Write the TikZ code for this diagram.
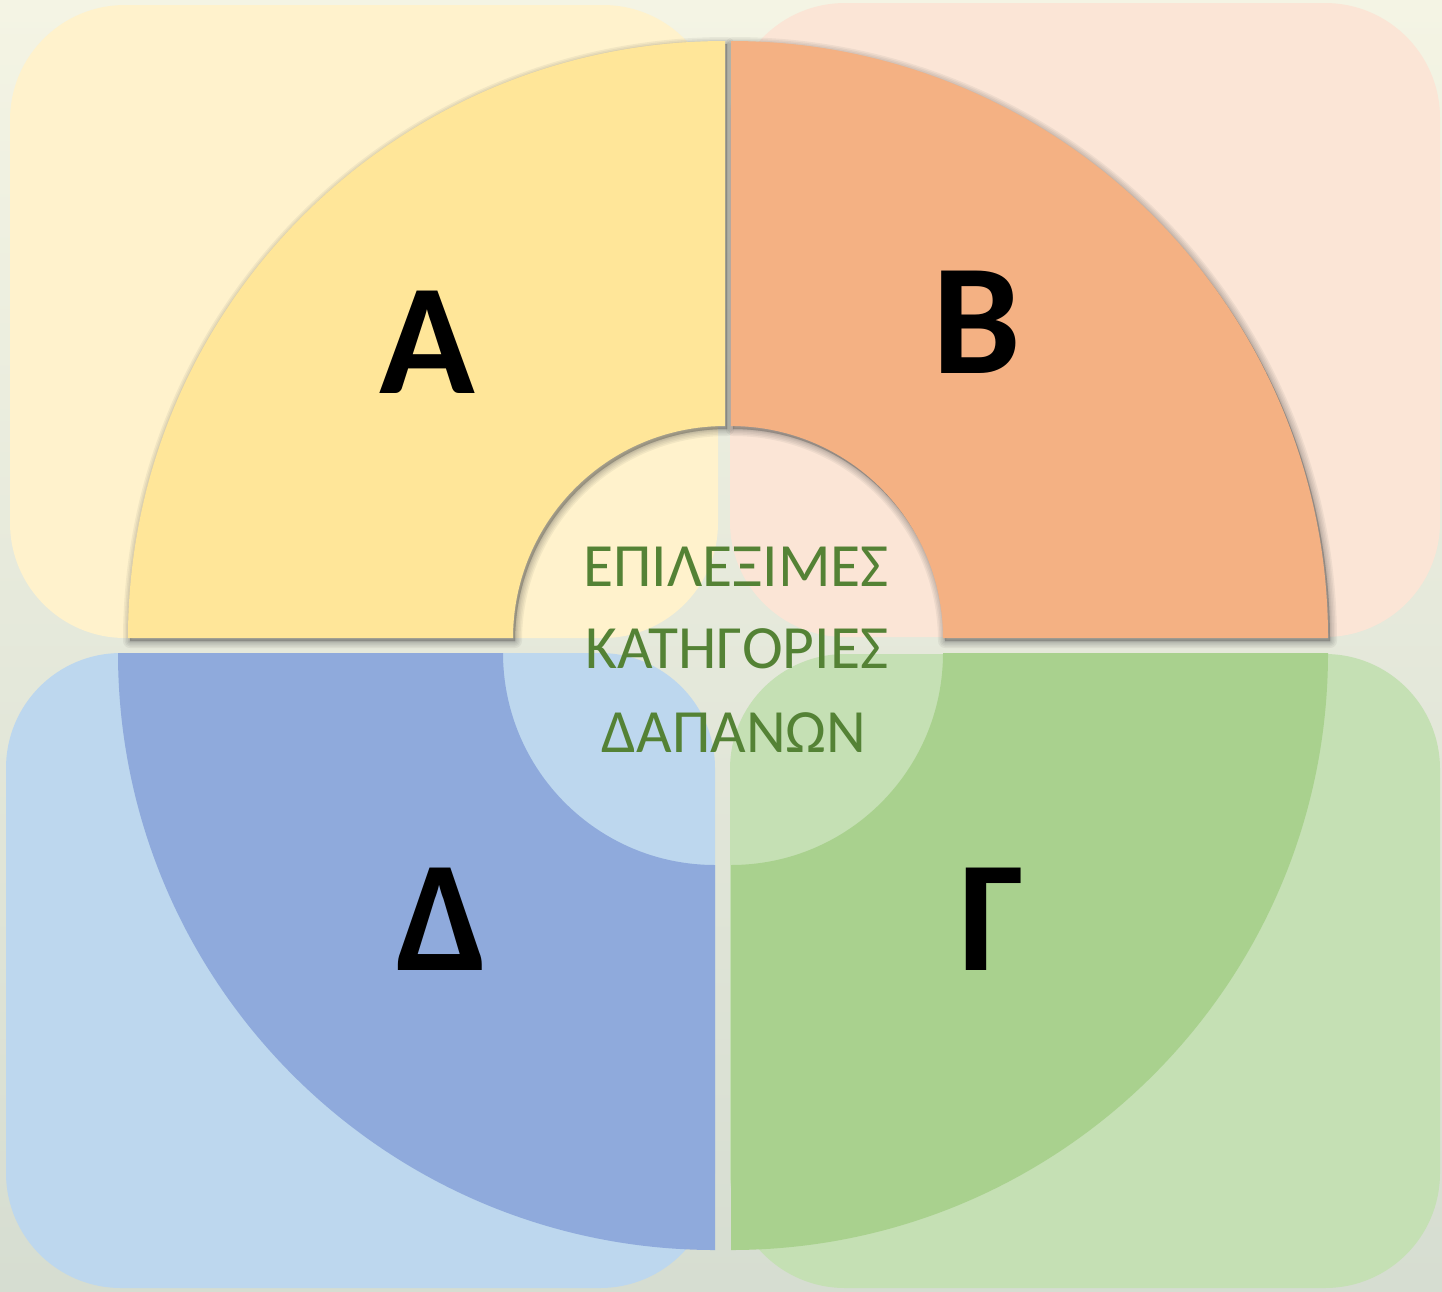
\documentclass[tikz,border=0pt]{standalone}
\usepackage{fontspec}
\setmainfont{Carlito}
\definecolor{bgtop}{HTML}{F4F4E4}
\definecolor{bgbot}{HTML}{D6DDD1}
\definecolor{rectA}{HTML}{FFF2CC}
\definecolor{rectB}{HTML}{FBE5D6}
\definecolor{rectD}{HTML}{BDD7EE}
\definecolor{rectG}{HTML}{C5E0B4}
\definecolor{secA}{HTML}{FFE699}
\definecolor{secB}{HTML}{F4B183}
\definecolor{secD}{HTML}{8FAADC}
\definecolor{secG}{HTML}{A9D18E}
\definecolor{txtgreen}{HTML}{548235}
\tikzset{
  bgrect/.style={rounded corners=115pt},
  sector/.style={line join=round},
  shadowlayer/.style={fill=black!70, draw=black!70, opacity=0.07, line join=round, line width=#1},
  bigletter/.style={anchor=base, inner sep=0pt, font=\fontsize{158}{190}\selectfont\bfseries, text=black},
  centertext/.style={anchor=base, inner sep=0pt, font=\fontsize{61.5}{82}\selectfont, text=txtgreen},
  pathA/.style={insert path={(128,638) arc[start angle=180,end angle=270,radius=597] -- (725,426) arc[start angle=270,end angle=180,radius=212] -- cycle}},
  pathB/.style={insert path={(731,41) arc[start angle=270,end angle=360,radius=597] -- (943,638) arc[start angle=0,end angle=-90,radius=212] -- cycle}},
  pathG/.style={insert path={(1328,653) arc[start angle=0,end angle=90,radius=597] -- (731,865) arc[start angle=90,end angle=0,radius=212] -- cycle}},
  pathD/.style={insert path={(715,1250) arc[start angle=90,end angle=180,radius=597] -- (503,653) arc[start angle=180,end angle=90,radius=212] -- cycle}},
}
\begin{document}
\begin{tikzpicture}[x=1pt,y=-1pt]
  % background
  \shade[top color=bgtop, bottom color=bgbot] (0,0) rectangle (1442,1291);
  \useasboundingbox (0,0) rectangle (1442,1291);
  % background rounded rectangles
  \fill[bgrect, rectA] (10,5) rectangle (718,638);
  \fill[bgrect, rectB] (730,3) rectangle (1440,637);
  \fill[bgrect, rectD] (6,653) rectangle (715,1288);
  \fill[bgrect, rectG] (730,654) rectangle (1440,1288);
  % soft shadows of the upper sectors
  \foreach \w in {14,11,8,5,3,1} {
    \begin{scope}[shift={(2,3)}]
      \path[shadowlayer=\w, pathA];
      \path[shadowlayer=\w, pathB];
    \end{scope}
  }
  % sectors
  \fill[sector, secA, pathA];
  \fill[sector, secB, pathB];
  \fill[sector, secG, pathG];
  \fill[sector, secD, pathD];
  % letters
  \node[bigletter] (la) at (427,393) {Α};
  \node[bigletter] (lb) at (977,373) {Β};
  \node[bigletter] (ld) at (442,970) {Δ};
  \node[bigletter] (lg) at (992,970) {Γ};
  % centre text
  \node[centertext] (t1) at (736,586) {ΕΠΙΛΕΞΙΜΕΣ};
  \node[centertext] (t2) at (737,668) {ΚΑΤΗΓΟΡΙΕΣ};
  \node[centertext] (t3) at (734,752) {ΔΑΠΑΝΩΝ};
\end{tikzpicture}
\end{document}
